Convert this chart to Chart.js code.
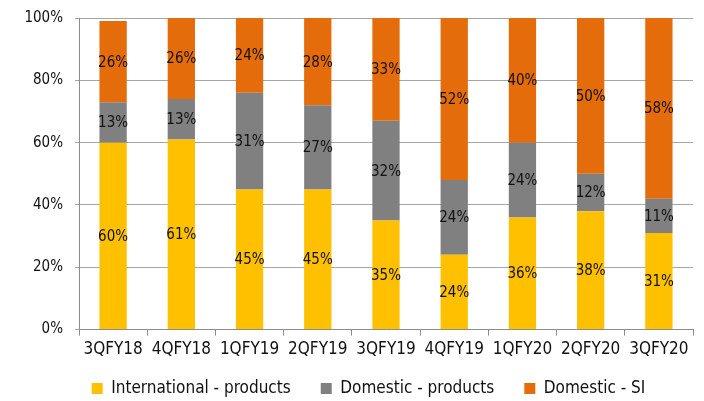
<!DOCTYPE html>
<html>
<head>
<meta charset="utf-8">
<script src="https://cdn.jsdelivr.net/npm/chart.js@4"></script>
<style>
  html, body { margin: 0; padding: 0; background: #fff; }
  #wrap { width: 704px; height: 401px; }
</style>
</head>
<body>
<div id="wrap"><canvas id="bar_Mix"></canvas></div>
<script>
const quarters = ["3QFY18", "4QFY18", "1QFY19", "2QFY19", "3QFY19", "4QFY19", "1QFY20", "2QFY20", "3QFY20"];
const intlProducts = [60, 61, 45, 45, 35, 24, 36, 38, 31];
const domProducts = [13, 13, 31, 27, 32, 24, 24, 12, 11];
const domSI = [26, 26, 24, 28, 33, 52, 40, 50, 58];
const yTicks = [0, 20, 40, 60, 80, 100];

const fontFamily = "'DejaVu Sans Condensed', 'DejaVu Sans', sans-serif";

// writes the % value in the middle of every segment
const segmentLabels = {
    id: "segmentLabels",
    afterDatasetsDraw(chart) {
        const ctx = chart.ctx;
        ctx.save();
        ctx.font = "15px " + fontFamily;
        ctx.fillStyle = "#111";
        ctx.textAlign = "center";
        ctx.textBaseline = "middle";
        chart.data.datasets.forEach((ds, i) => {
            chart.getDatasetMeta(i).data.forEach((bar, j) => {
                const p = bar.getCenterPoint();
                ctx.fillText(ds.data[j] + "%", p.x, p.y + 1);
            });
        });
        ctx.restore();
    }
};

// legend takes less room than chart.js wants; its row sits near the bottom edge
const legendPlacement = {
    id: "legendPlacement",
    afterInit(chart) {
        const legend = chart.legend;
        const fit = legend.fit;
        legend.fit = function () {
            fit.call(this);
            this.height = 37;
        };
    },
    afterLayout(chart) {
        const lg = chart.legend;
        lg.top = 350;
        lg.bottom = chart.height;
        lg.left += 22;
        lg.right += 22;
    }
};

const config_Mix = {
    type: "bar",
    data: {
        labels: quarters,
        datasets: [
            { label: "International - products", data: intlProducts, backgroundColor: "#FFC000" },
            { label: "Domestic - products", data: domProducts, backgroundColor: "#808080" },
            { label: "Domestic - SI", data: domSI, backgroundColor: "#E46C0A" }
        ]
    },
    options: {
        responsive: true,
        maintainAspectRatio: false,
        animation: false,
        datasets: {
            bar: { barPercentage: 0.4, categoryPercentage: 1, borderWidth: 0 }
        },
        layout: { padding: { top: 18, right: 11, left: 0, bottom: 0 } },
        scales: {
            x: {
                stacked: true,
                grid: { drawOnChartArea: false, color: "#8c8c8c", tickLength: 6, offset: true },
                border: { color: "#8c8c8c" },
                ticks: { color: "#111", font: { family: fontFamily, size: 17 }, padding: 4, maxRotation: 0 }
            },
            y: {
                stacked: true,
                min: 0,
                max: 100,
                afterFit: (scale) => {
                    scale.width = 79;
                    scale.paddingTop = 0;
                    scale.paddingBottom = 0;
                },
                afterBuildTicks: (scale) => { scale.ticks = yTicks.map(v => ({ value: v })); },
                grid: { color: "#a6a6a6", tickLength: 4 },
                border: { color: "#8c8c8c" },
                ticks: {
                    color: "#111",
                    font: { family: fontFamily, size: 15 },
                    padding: 12,
                    callback: (v) => v + "%"
                }
            }
        },
        plugins: {
            legend: {
                position: "bottom",
                labels: {
                    boxWidth: 11,
                    boxHeight: 11,
                    padding: 30,
                    color: "#111",
                    font: { family: fontFamily, size: 17 }
                }
            },
            tooltip: { enabled: false }
        }
    },
    plugins: [segmentLabels, legendPlacement]
};

const ctx_Mix = document.getElementById("bar_Mix").getContext("2d");
const myChart_Mix = new Chart(ctx_Mix, config_Mix);
</script>
</body>
</html>
